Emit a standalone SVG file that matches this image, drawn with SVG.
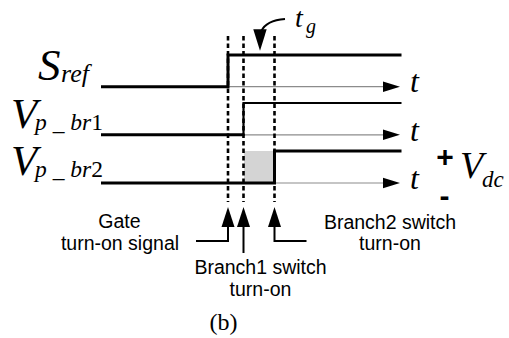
<svg xmlns="http://www.w3.org/2000/svg" width="509" height="338" viewBox="0 0 509 338">
<style>
.bg{fill:#fff}
.sig{fill:none;stroke:#000;stroke-width:3;stroke-linejoin:miter}
.sig2{fill:none;stroke:#000;stroke-width:2.2}
.axis{fill:none;stroke:#8c8c8c;stroke-width:1.2}
.dot{fill:none;stroke:#000;stroke-width:2.6;stroke-dasharray:4.5 3}
.ln{fill:none;stroke:#000;stroke-width:2}
.head{fill:#000}
.serif{font-family:"Liberation Serif","Times New Roman",serif;font-style:italic;fill:#000}
.up{font-style:normal}
.sans{font-family:"Liberation Sans",Arial,sans-serif;font-size:19.5px;fill:#000;text-anchor:middle}
.pm{font-family:"Liberation Sans",Arial,sans-serif;font-weight:bold;font-size:30px;fill:#000;text-anchor:middle}
</style>
<rect class="bg" x="0" y="0" width="509" height="338"/>
<g id="shade">
<rect x="244" y="151" width="30" height="31.5" fill="#d4d4d4"/>
</g>
<g id="signal-sref">
<line class="axis" x1="101" y1="86.7" x2="386" y2="86.7"/>
<polygon class="head" points="383,81.5 400,86.7 383,91.9"/>
<polyline class="sig" points="101,86.7 228,86.7 228,55 401.5,55"/>
<text class="serif" x="38" y="80" font-size="45">S</text>
<text class="serif" x="61" y="82" font-size="26">ref</text>
<text class="serif" x="410" y="92" font-size="32">t</text>
</g>
<g id="signal-vpbr1">
<line class="axis" x1="101" y1="134.8" x2="386" y2="134.8"/>
<polygon class="head" points="383,129.6 400,134.8 383,140"/>
<polyline class="sig" points="101,134.8 243.5,134.8"/>
<polyline class="sig2" points="243.5,136 243.5,103 401.5,103"/>
<text class="serif" x="11" y="128" font-size="43">V</text>
<text class="serif" x="35" y="130" font-size="23.5" xml:space="preserve">p _ br<tspan class="up">1</tspan></text>
<text class="serif" x="410" y="141" font-size="32">t</text>
</g>
<g id="signal-vpbr2">
<line class="axis" x1="101" y1="183" x2="386" y2="183"/>
<polygon class="head" points="383,177.8 400,183 383,188.2"/>
<polyline class="sig" points="101,183 274.5,183 274.5,151 401.5,151"/>
<text class="serif" x="11" y="175" font-size="43">V</text>
<text class="serif" x="35" y="177" font-size="23.5" xml:space="preserve">p _ br<tspan class="up">2</tspan></text>
<text class="serif" x="410" y="189" font-size="32">t</text>
</g>
<g id="vdc">
<text class="pm" x="445" y="167">+</text>
<text class="pm" x="444.5" y="206">-</text>
<text class="serif" x="460" y="178" font-size="38">V</text>
<text class="serif" x="482" y="187" font-size="23">dc</text>
</g>
<g id="tg">
<text class="serif" x="295" y="26.5" font-size="28">t</text>
<text class="serif" x="306" y="33" font-size="20">g</text>
</g>
<g id="labels">
<text class="sans" x="119.5" y="228">Gate</text>
<text class="sans" x="120" y="250">turn-on signal</text>
<text class="sans" x="260.5" y="273.5">Branch1 switch</text>
<text class="sans" x="260.5" y="296">turn-on</text>
<text class="sans" x="390" y="229">Branch2 switch</text>
<text class="sans" x="390" y="250">turn-on</text>
<text class="serif up" x="223.5" y="330" font-size="24" text-anchor="middle">(b)</text>
</g>
<g id="connectors">
<line class="dot" x1="228" y1="36" x2="228" y2="202"/>
<line class="dot" x1="243.5" y1="36" x2="243.5" y2="202"/>
<line class="dot" x1="274.5" y1="36" x2="274.5" y2="202"/>
<path class="ln" d="M285,19 Q266,20.5 261.5,31"/>
<polygon class="head" points="253.3,29.3 266.7,29.3 260,50.7"/>
<polygon class="head" points="221.5,227 234.5,227 228,207"/>
<polygon class="head" points="237,227 250,227 243.5,207"/>
<polygon class="head" points="268,227 281,227 274.5,207"/>
<polyline class="ln" points="228,226 228,241 196,241"/>
<polyline class="ln" points="243.5,226 243.5,253"/>
<polyline class="ln" points="274.5,226 274.5,241 306.5,241"/>
</g>
</svg>
